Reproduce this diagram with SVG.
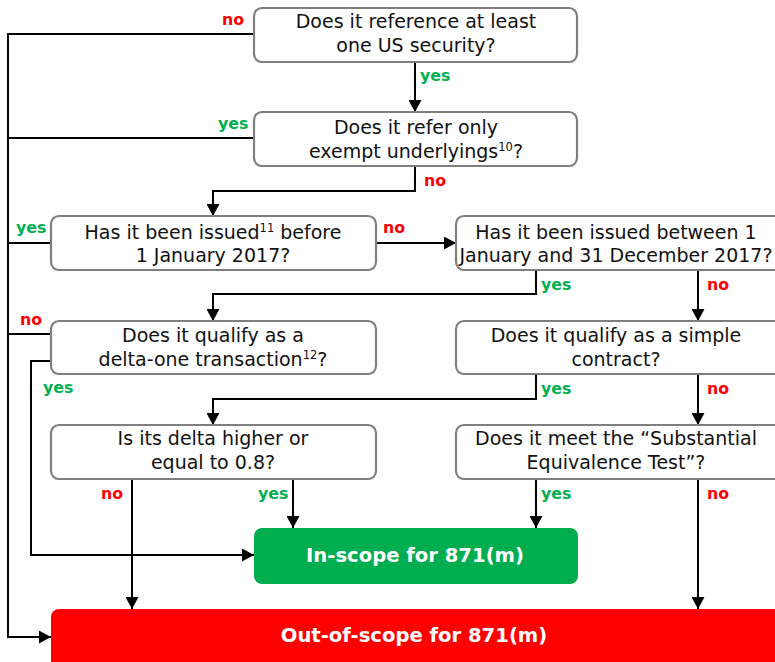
<svg xmlns="http://www.w3.org/2000/svg" width="775" height="662" viewBox="0 0 775 662">
<defs>
<marker id="arr" markerUnits="userSpaceOnUse" markerWidth="13" markerHeight="13" refX="12" refY="6.5" orient="auto">
<path d="M0,0 L12,6.5 L0,13 z" fill="#000"/>
</marker>
<style>
.box{fill:#fff;stroke:#7f7f7f;stroke-width:2.2}
.t{font-family:"DejaVu Sans",Verdana,sans-serif;font-size:19px;fill:#111;text-anchor:middle}
.sup{font-size:11.5px}
.lbl{font-family:"DejaVu Sans",Verdana,sans-serif;font-size:15.8px;font-weight:bold}
.no{fill:#ff0000}
.yes{fill:#00b050}
.c{fill:none;stroke:#000;stroke-width:2}
.ca{fill:none;stroke:#000;stroke-width:2;marker-end:url(#arr)}
.res{font-family:"DejaVu Sans",Verdana,sans-serif;font-size:19.6px;font-weight:bold;fill:#fff;text-anchor:middle}
</style>
</defs>
<rect width="775" height="662" fill="#fff"/>

<g id="connectors">
<path class="ca" d="M254,34 H8 V637 H51"/>
<path class="ca" d="M415,62 V112"/>
<path class="c" d="M254,138 H8"/>
<path class="ca" d="M415,166 V191 H213 V216"/>
<path class="c" d="M51,243 H8"/>
<path class="ca" d="M376,243 H456"/>
<path class="ca" d="M536,270 V294 H213 V321"/>
<path class="ca" d="M698,270 V321"/>
<path class="c" d="M51,334 H8"/>
<path class="ca" d="M51,361 H31 V555 H254"/>
<path class="ca" d="M536,374 V399 H213 V425"/>
<path class="ca" d="M698,374 V425"/>
<path class="ca" d="M132,479 V609"/>
<path class="ca" d="M293,479 V528"/>
<path class="ca" d="M536,479 V528"/>
<path class="ca" d="M698,479 V609"/>
</g>

<g id="labels">
<text class="lbl no" x="222" y="25">no</text>
<text class="lbl yes" x="420" y="81">yes</text>
<text class="lbl yes" x="218" y="129">yes</text>
<text class="lbl no" x="424" y="186">no</text>
<text class="lbl yes" x="16" y="233">yes</text>
<text class="lbl no" x="383" y="233">no</text>
<text class="lbl yes" x="541" y="290">yes</text>
<text class="lbl no" x="707" y="290">no</text>
<text class="lbl no" x="20" y="325">no</text>
<text class="lbl yes" x="43" y="393">yes</text>
<text class="lbl yes" x="541" y="394">yes</text>
<text class="lbl no" x="707" y="394">no</text>
<text class="lbl no" x="101" y="499">no</text>
<text class="lbl yes" x="258" y="499">yes</text>
<text class="lbl yes" x="541" y="499">yes</text>
<text class="lbl no" x="707" y="499">no</text>
</g>

<g id="q1">
<rect class="box" x="254" y="8" width="323" height="54" rx="8"/>
<text class="t" x="416" y="28">Does it reference at least</text>
<text class="t" x="416" y="52">one US security?</text>
</g>
<g id="q2">
<rect class="box" x="254" y="112" width="323" height="54" rx="8"/>
<text class="t" x="416" y="134">Does it refer only</text>
<text class="t" x="416" y="158">exempt underlyings<tspan class="sup" dy="-7">10</tspan><tspan dy="7">?</tspan></text>
</g>
<g id="q3">
<rect class="box" x="51" y="216" width="325" height="54" rx="8"/>
<text class="t" x="213" y="239">Has it been issued<tspan class="sup" dy="-7">11</tspan><tspan dy="7"> before</tspan></text>
<text class="t" x="213" y="262">1 January 2017?</text>
</g>
<g id="q4">
<rect class="box" x="456" y="216" width="330" height="54" rx="8"/>
<text class="t" x="616" y="239">Has it been issued between 1</text>
<text class="t" x="616" y="262">January and 31 December 2017?</text>
</g>
<g id="q5">
<rect class="box" x="51" y="321" width="325" height="53" rx="8"/>
<text class="t" x="213" y="342">Does it qualify as a</text>
<text class="t" x="213" y="366">delta-one transaction<tspan class="sup" dy="-7">12</tspan><tspan dy="7">?</tspan></text>
</g>
<g id="q6">
<rect class="box" x="456" y="321" width="330" height="53" rx="8"/>
<text class="t" x="616" y="342">Does it qualify as a simple</text>
<text class="t" x="616" y="366">contract?</text>
</g>
<g id="q7">
<rect class="box" x="51" y="425" width="325" height="54" rx="8"/>
<text class="t" x="213" y="445">Is its delta higher or</text>
<text class="t" x="213" y="469">equal to 0.8?</text>
</g>
<g id="q8">
<rect class="box" x="456" y="425" width="330" height="54" rx="8"/>
<text class="t" x="616" y="445">Does it meet the “Substantial</text>
<text class="t" x="616" y="469">Equivalence Test”?</text>
</g>
<g id="inscope">
<rect x="254" y="528" width="324" height="56" rx="8" fill="#00ae4f"/>
<text class="res" x="415" y="562">In-scope for 871(m)</text>
</g>
<g id="outscope">
<rect x="51" y="609" width="740" height="70" rx="8" fill="#ff0000"/>
<text class="res" x="414" y="642">Out-of-scope for 871(m)</text>
</g>
</svg>
